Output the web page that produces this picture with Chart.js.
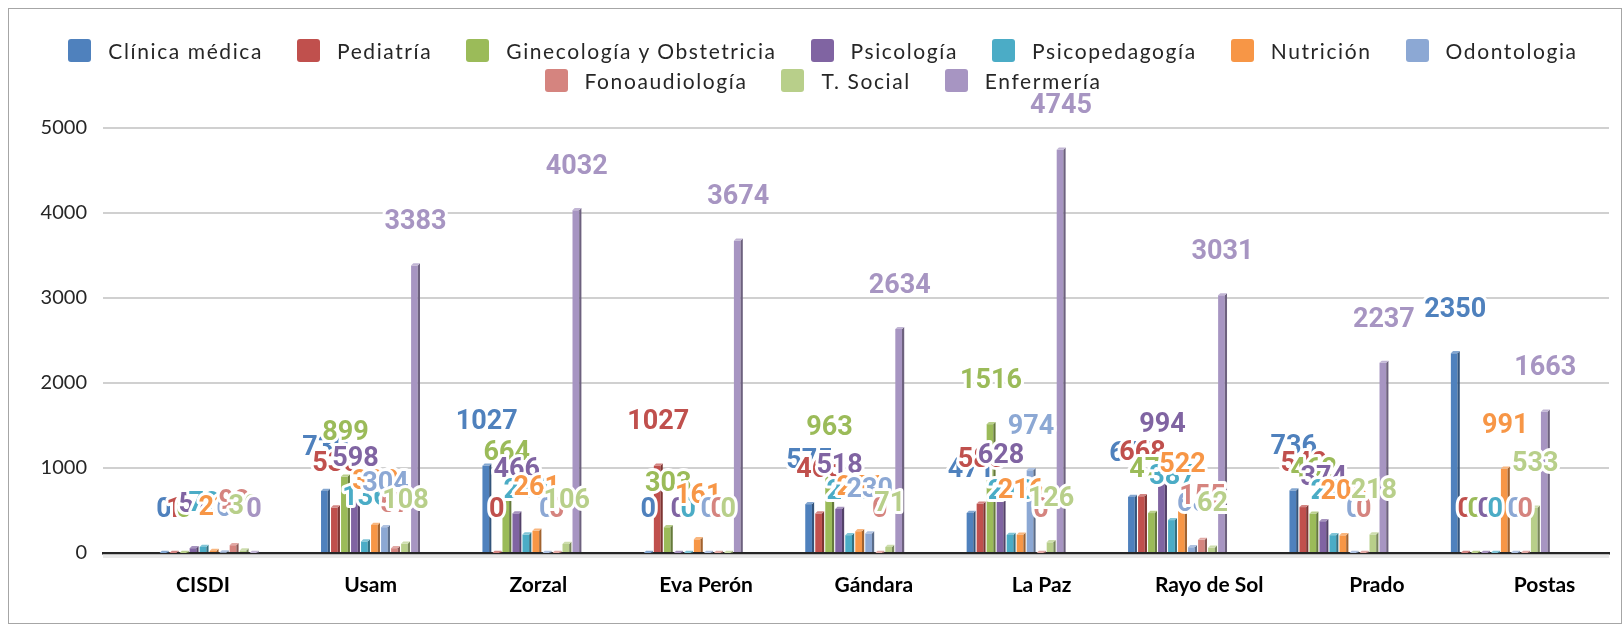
<!DOCTYPE html>
<html><head><meta charset="utf-8">
<script src="https://cdn.jsdelivr.net/npm/chart.js@4.4.1/dist/chart.umd.min.js"></script>
<style>
html,body{margin:0;padding:0;background:#fff;overflow:hidden;}
#wrap{position:relative;width:1624px;height:626px;}
#frame{position:absolute;left:8px;top:8px;width:1614px;height:616px;border:1px solid #A6A6A6;box-sizing:border-box;pointer-events:none;}
#chartBox{position:absolute;left:0;top:0;width:1624px;height:626px;}
#legend{position:absolute;left:43px;top:39px;width:1560px;display:flex;flex-wrap:wrap;justify-content:center;column-gap:34px;row-gap:7px;font-family:Lato,sans-serif;font-size:21px;letter-spacing:1.6px;color:#262626;}
.item{display:flex;align-items:center;height:23px;white-space:nowrap;}
.box{width:23px;height:23px;border-radius:3px;margin-right:17px;flex:none;}
</style></head><body>
<div id="wrap"><div id="chartBox"><canvas id="c"></canvas></div><div id="legend"></div><div id="frame"></div></div>
<script>
const categories = ['CISDI', 'Usam', 'Zorzal', 'Eva Perón', 'Gándara', 'La Paz', 'Rayo de Sol', 'Prado', 'Postas'];
const seriesNames = ['Clínica médica', 'Pediatría', 'Ginecología y Obstetricia', 'Psicología', 'Psicopedagogía', 'Nutrición', 'Odontologia', 'Fonoaudiología', 'T. Social', 'Enfermería'];
const seriesColors = ['#4F81BD', '#C0504D', '#9BBB59', '#8064A2', '#4BACC6', '#F79646', '#8CA8D4', '#D5847F', '#B8CF8A', '#A795C2'];

const clinicaMedica   = [0, 730, 1027, 0, 575, 471, 660, 736, 2350];
const pediatria       = [1, 535, 0, 1027, 465, 580, 668, 540, 0];
const ginecologia     = [0, 899, 664, 303, 963, 1516, 470, 462, 0];
const psicologia      = [57, 598, 466, 0, 518, 628, 994, 374, 0];
const psicopedagogia  = [72, 136, 217, 0, 210, 213, 387, 210, 0];
const nutricion       = [23, 330, 261, 161, 256, 216, 522, 208, 991];
const odontologia     = [6, 304, 0, 0, 230, 974, 68, 0, 0];
const fonoaudiologia  = [92, 57, 0, 0, 0, 0, 155, 0, 0];
const tSocial         = [30, 108, 106, 0, 71, 126, 62, 218, 533];
const enfermeria      = [0, 3383, 4032, 3674, 2634, 4745, 3031, 2237, 1663];
const seriesValues = [clinicaMedica, pediatria, ginecologia, psicologia, psicopedagogia, nutricion, odontologia, fonoaudiologia, tSocial, enfermeria];

const yTicks = [0, 1000, 2000, 3000, 4000, 5000];

function shade(hex, f) {
  const n = parseInt(hex.slice(1), 16);
  let r = (n >> 16) & 255, g = (n >> 8) & 255, b = n & 255;
  if (f < 0) { r = r * (1 + f); g = g * (1 + f); b = b * (1 + f); }
  else { r = r + (255 - r) * f; g = g + (255 - g) * f; b = b + (255 - b) * f; }
  return 'rgb(' + Math.round(r) + ',' + Math.round(g) + ',' + Math.round(b) + ')';
}

const depthPlugin = {
  id: 'depthAndLabels',
  beforeDatasetsDraw(chart) {
    const a = chart.chartArea, ctx = chart.ctx;
    ctx.save();
    ctx.fillStyle = '#E8E8E8';
    ctx.fillRect(a.left, a.bottom + 1.5, a.right - a.left, 3.5);
    ctx.restore();
  },
  afterDatasetsDraw(chart) {
    const ctx = chart.ctx;
    const d = 2.2;
    ctx.save();
    chart.data.datasets.forEach((ds, di) => {
      const meta = chart.getDatasetMeta(di);
      const col = seriesColors[di];
      meta.data.forEach(bar => {
        const p = bar.getProps(['x', 'y', 'base', 'width'], true);
        const l = p.x - p.width / 2, r = p.x + p.width / 2;
        ctx.fillStyle = shade(col, -0.35);
        ctx.beginPath();
        ctx.moveTo(r, p.y); ctx.lineTo(r + d, p.y - d); ctx.lineTo(r + d, p.base); ctx.lineTo(r, p.base); ctx.closePath(); ctx.fill();
        ctx.fillStyle = shade(col, 0.3);
        ctx.beginPath();
        ctx.moveTo(l, p.y); ctx.lineTo(l + d, p.y - d); ctx.lineTo(r + d, p.y - d); ctx.lineTo(r, p.y); ctx.closePath(); ctx.fill();
      });
    });
    ctx.font = 'bold 27px Roboto';
    ctx.textAlign = 'center';
    ctx.textBaseline = 'middle';
    ctx.lineJoin = 'round';
    ctx.lineWidth = 6;
    ctx.strokeStyle = '#ffffff';
    chart.data.datasets.forEach((ds, di) => {
      const meta = chart.getDatasetMeta(di);
      meta.data.forEach((bar, i) => {
        const p = bar.getProps(['x', 'y'], true);
        const txt = String(seriesValues[di][i]);
        const cx = p.x + 1, cy = p.y - 43;
        ctx.strokeText(txt, cx, cy);
        ctx.fillStyle = seriesColors[di];
        ctx.fillText(txt, cx, cy);
      });
    });
    ctx.restore();
  }
};

const datasets = seriesNames.map((name, k) => ({
  label: name,
  data: seriesValues[k].map((v, i) => ({ x: i, y: v })),
  backgroundColor: seriesColors[k],
  borderWidth: 0,
  categoryPercentage: 0.62,
  barPercentage: 0.67,
  xAxisID: 'x',
  yAxisID: 'y'
}));

const catTicks = s => { s.ticks = categories.map((c, i) => ({ value: i })); };

const chart = new Chart(document.getElementById('c'), {
  type: 'bar',
  data: { datasets },
  options: {
    responsive: true,
    maintainAspectRatio: false,
    animation: false,
    events: [],
    layout: { padding: { left: 0, right: 15, top: 128, bottom: 0 } },
    plugins: { legend: { display: false }, tooltip: { enabled: false } },
    scales: {
      x: { type: 'linear', display: false, bounds: 'data', offset: false, min: -0.6506, max: 8.680,
           afterBuildTicks: catTicks, grid: { offset: false } },
      xl: {
        type: 'linear', position: 'bottom', bounds: 'data', offset: false, min: -0.596, max: 8.384,
        afterBuildTicks: catTicks,
        ticks: { autoSkip: false, maxRotation: 0, callback: v => categories[v], color: '#000', padding: 20, font: { family: 'Lato', size: 21, weight: 'bold' } },
        grid: { display: false, drawTicks: false, offset: false },
        border: { display: true, color: '#262626', width: 2.5 },
        afterFit: s => { s.height = 73; s.paddingLeft = 0; s.paddingRight = 0; }
      },
      y: {
        min: 0, max: 5000,
        afterBuildTicks: s => { s.ticks = yTicks.map(v => ({ value: v })); },
        ticks: { color: '#262626', padding: 16, font: { family: 'Lato', size: 20 }, callback: v => String(v) },
        grid: { color: '#D0D0D0', lineWidth: 2, drawTicks: false },
        border: { display: false },
        afterFit: s => { s.width = 103; s.paddingTop = 0; s.paddingBottom = 0; }
      }
    }
  },
  plugins: [depthPlugin]
});

const legendEl = document.getElementById('legend');
seriesNames.forEach((name, k) => {
  const it = document.createElement('div');
  it.className = 'item';
  const b = document.createElement('span');
  b.className = 'box';
  b.style.background = seriesColors[k];
  const t = document.createElement('span');
  t.textContent = name;
  it.appendChild(b); it.appendChild(t);
  legendEl.appendChild(it);
});
</script>
</body></html>
